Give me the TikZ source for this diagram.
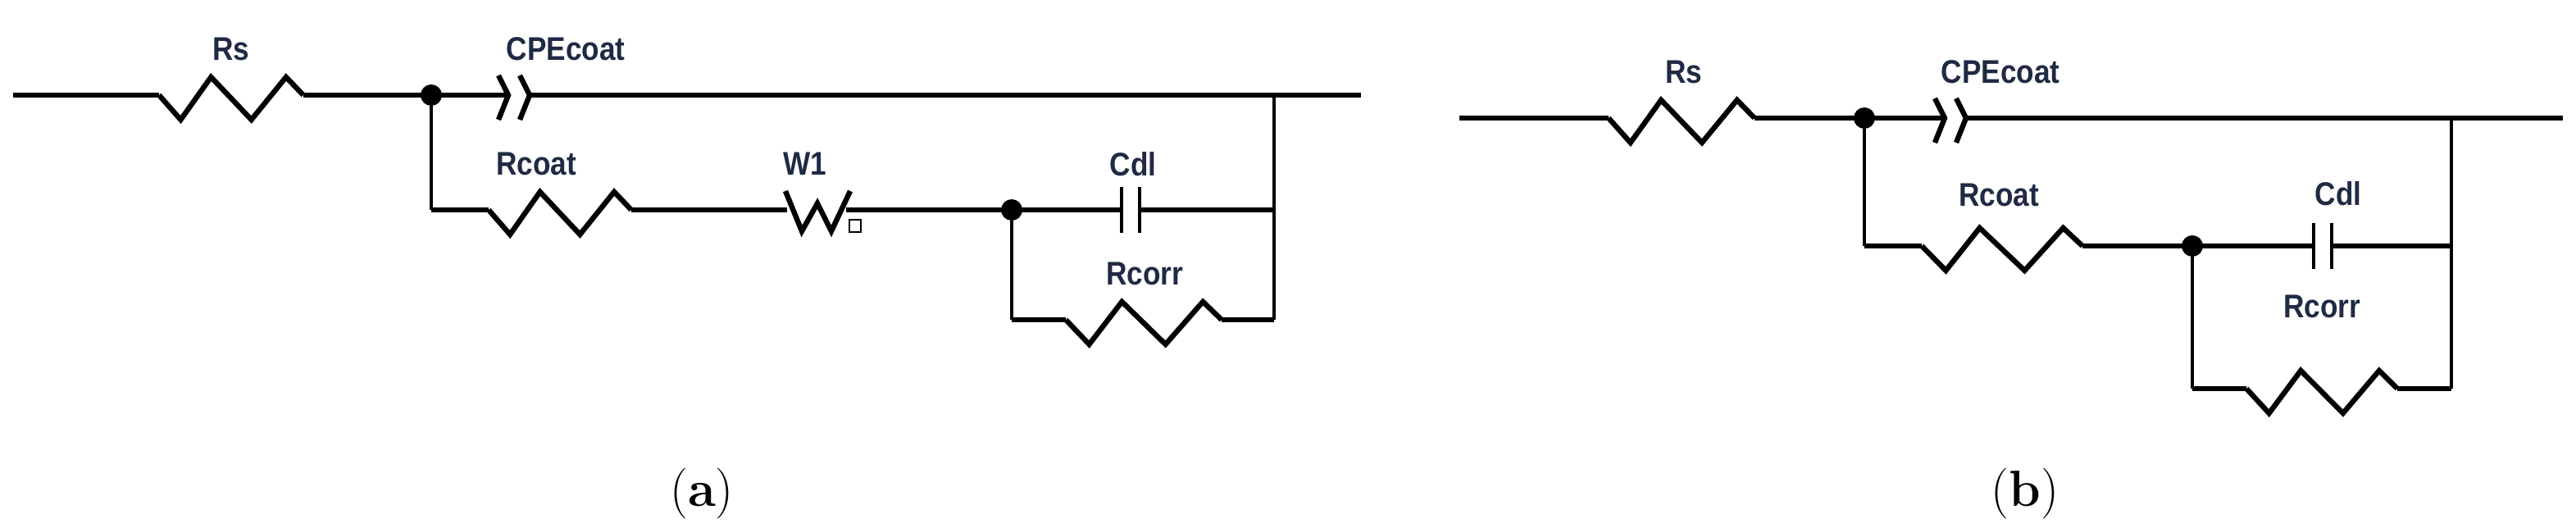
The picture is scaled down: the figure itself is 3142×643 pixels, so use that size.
\documentclass[tikz,border=0pt]{standalone}
\usepackage{fontspec}
\setmainfont{Latin Modern Roman}
\newfontfamily\lab{Liberation Sans}
\definecolor{labc}{HTML}{1F2A44}
\newcommand{\resz}[3]{%
 \pgfmathsetmacro{\wA}{#2-#1}%
 \draw[wire] (#1,#3) -- ({#1+0.15*\wA},{#3+30}) -- ({#1+0.36*\wA},{#3-22}) -- ({#1+0.64*\wA},{#3+30}) -- ({#1+0.88*\wA},{#3-22}) -- (#2,#3);}
\newcommand{\capz}[3]{%
 \draw[thin wire] (#1,#3-28) -- (#1,#3+28); \draw[thin wire] (#2,#3-28) -- (#2,#3+28);}
\newcommand{\cpez}[2]{%
 \draw[wire,line join=miter] (#1-12,#2-24) -- (#1,#2) -- (#1-12,#2+30);
 \draw[wire,line join=miter] (#1+14,#2-24) -- (#1+26,#2) -- (#1+14,#2+30);}
\begin{document}
\begin{tikzpicture}[x=0.5pt,y=-0.5pt,
 wire/.style={line width=3.2pt},
 thin wire/.style={line width=1.7pt},
 lbl/.style={font=\lab\bfseries\fontsize{20}{20}\selectfont,text=labc,xscale=0.88},
 dot/.style={circle,fill=black,inner sep=0pt,minimum size=13pt},
 caption/.style={font=\fontsize{31}{31}\selectfont}]
\useasboundingbox (0,0) rectangle (3142,643);
% ---------- (a)
\coordinate (aL) at (16,116); \coordinate (aR) at (1660,116);
\coordinate (aJ) at (526,116); \coordinate (aK) at (1234,256);
\coordinate (aT) at (1554,116); \coordinate (aB) at (1554,390);
\draw[wire] (aL) -- (194,116); \resz{194}{370}{116}
\draw[wire] (370,116) -- (620,116);
\cpez{620}{116}
\draw[wire] (646,116) -- (aR);
\draw[thin wire] (aJ) -- (526,256);
\draw[wire] (526,256) -- (596,256); \resz{596}{770}{256}
\draw[wire] (770,256) -- (960,256);
\draw[wire,line join=miter] (958,233) -- (978,282) -- (997,248) -- (1014,282) -- (1037,233);
\draw[line width=1.4pt] (1036,268) rectangle (1050,283);
\draw[wire] (1032,256) -- (aK) -- (1368,256);
\capz{1368}{1390}{256}
\draw[wire] (1390,256) -- (1554,256);
\draw[thin wire] (aT) -- (aB);
\draw[thin wire] (aK) -- (1234,390);
\draw[wire] (1234,390) -- (1300,390); \resz{1300}{1490}{390}
\draw[wire] (1490,390) -- (aB);
\node[dot] at (aJ) {}; \node[dot] at (aK) {};
\node[lbl] (rs) at (282,60) {Rs};
\node[lbl] (cpe) at (690,60) {CPEcoat};
\node[lbl] (rc) at (654,200) {Rcoat};
\node[lbl] (w1) at (982,200) {W1};
\node[lbl] (cdl) at (1382,200) {Cdl};
\node[lbl] (rcorr) at (1396,334) {Rcorr};
\node[caption] (la) at (856,602) {(\textbf{a})};
% ---------- (b)
\coordinate (bL) at (1780,144); \coordinate (bR) at (3126,144);
\coordinate (bJ) at (2274,144); \coordinate (bK) at (2674,300);
\coordinate (bT) at (2990,144); \coordinate (bB) at (2990,474);
\draw[wire] (bL) -- (1962,144); \resz{1962}{2140}{144}
\draw[wire] (2140,144) -- (2372,144);
\cpez{2372}{144}
\draw[wire] (2398,144) -- (bR);
\draw[thin wire] (bJ) -- (2274,300);
\draw[wire] (2274,300) -- (2344,300); \resz{2344}{2540}{300}
\draw[wire] (2540,300) -- (bK) -- (2822,300);
\capz{2822}{2844}{300}
\draw[wire] (2844,300) -- (2990,300);
\draw[thin wire] (bT) -- (bB);
\draw[thin wire] (bK) -- (2674,474);
\draw[wire] (2674,474) -- (2740,474); \resz{2740}{2924}{474}
\draw[wire] (2924,474) -- (bB);
\node[dot] at (bJ) {}; \node[dot] at (bK) {};
\node[lbl] (rsb) at (2054,88) {Rs};
\node[lbl] (cpeb) at (2440,88) {CPEcoat};
\node[lbl] (rcb) at (2438,238) {Rcoat};
\node[lbl] (cdlb) at (2852,236) {Cdl};
\node[lbl] (rcorrb) at (2832,374) {Rcorr};
\node[caption] (lb) at (2470,602) {(\textbf{b})};
\end{tikzpicture}
\end{document}
